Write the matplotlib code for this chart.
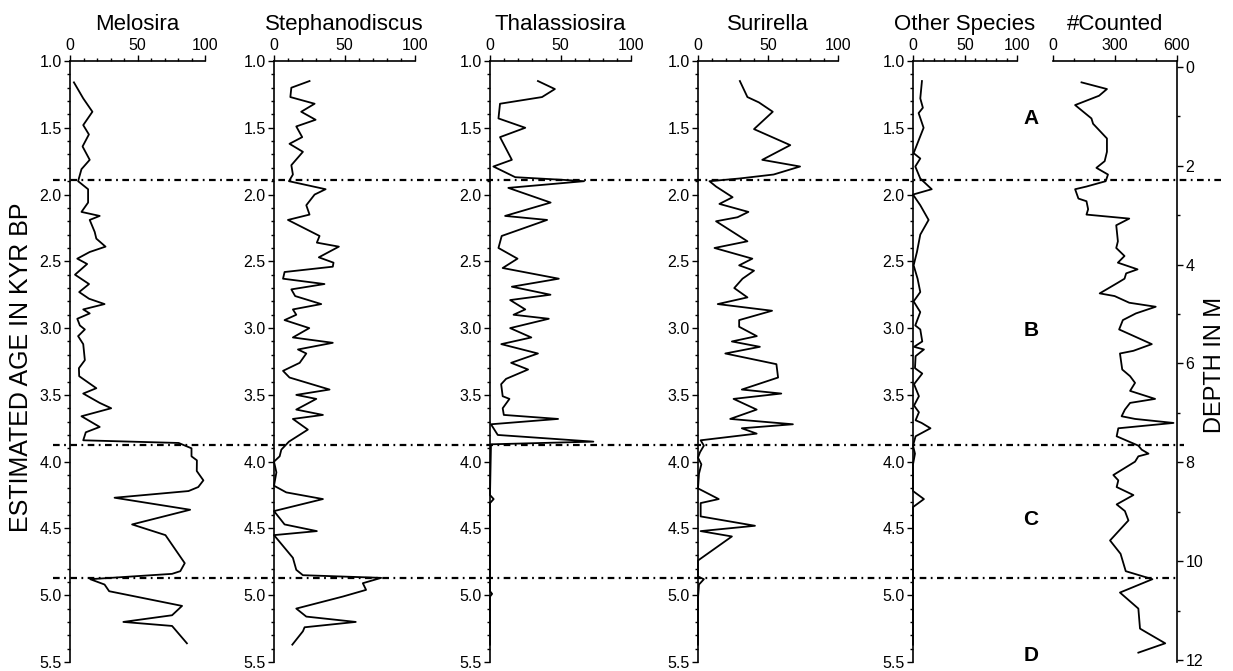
"""Diatom stratigraphy: percentage of each taxon versus estimated age,
with the number of valves counted and the depth scale on the right."""
import matplotlib

matplotlib.use("Agg")
import matplotlib.pyplot as plt
import matplotlib.transforms as mtransforms
from matplotlib.lines import Line2D
from matplotlib.ticker import FormatStrFormatter, MultipleLocator

plt.rcParams["font.family"] = ["Liberation Sans", "DejaVu Sans"]

# ---- data (age in kyr BP, value in %) ----
MELOSIRA_AGE = [1.16, 1.28, 1.38, 1.48, 1.55, 1.64, 1.74, 1.81, 1.90, 1.96,
                2.06, 2.13, 2.16, 2.19, 2.28, 2.33, 2.39, 2.43, 2.48, 2.52,
                2.60, 2.67, 2.73, 2.78, 2.82, 2.86, 2.89, 2.93, 2.98, 3.01,
                3.06, 3.12, 3.24, 3.30, 3.36, 3.45, 3.49, 3.56, 3.60, 3.66,
                3.74, 3.78, 3.84, 3.86, 3.90, 3.96, 3.99, 4.07, 4.14, 4.19,
                4.22, 4.27, 4.36, 4.47, 4.55, 4.76, 4.82, 4.84, 4.88, 4.92,
                4.97, 5.08, 5.15, 5.20, 5.23, 5.36]
MELOSIRA_PCT = [2.9, 9.8, 16.6, 9.8, 14, 9.3, 14.6, 8.5, 6, 13.4,
                13.4, 8.5, 22, 14.6, 18.3, 19.5, 26.3, 14.6, 5.4, 12.7,
                3.7, 14.1, 6.8, 14.1, 25.6, 9.8, 14.6, 5.4, 7.3, 11,
                6, 9.8, 11, 6.6, 6.8, 19.5, 9.8, 22, 30.5, 8.5,
                22, 11.7, 9.8, 80.5, 90, 90, 94, 93.9, 98.8, 95,
                87.8, 33, 89, 46, 70.7, 85, 81.7, 75.6, 15, 25.6,
                29, 83, 75.6, 39.5, 75.6, 86.6]

STEPH_AGE = [1.15, 1.20, 1.27, 1.32, 1.38, 1.44, 1.49, 1.57, 1.62, 1.68,
             1.78, 1.85, 1.90, 1.96, 2.00, 2.08, 2.15, 2.19, 2.31, 2.36,
             2.39, 2.47, 2.51, 2.54, 2.58, 2.63, 2.67, 2.71, 2.76, 2.82,
             2.86, 2.90, 2.94, 3.00, 3.07, 3.11, 3.16, 3.19, 3.26, 3.32,
             3.37, 3.46, 3.50, 3.53, 3.61, 3.65, 3.68, 3.76, 3.85, 3.91,
             3.96, 4.00, 4.08, 4.18, 4.23, 4.28, 4.37, 4.47, 4.52, 4.55,
             4.72, 4.81, 4.85, 4.87, 4.91, 4.96, 5.01, 5.10, 5.16, 5.20,
             5.24, 5.27, 5.37]
STEPH_PCT = [25.2, 12.3, 11.6, 28.8, 19.3, 29.5, 15.8, 20, 11, 20.5,
             12.3, 13.4, 10.6, 36.6, 28.8, 22.9, 25.2, 9.9, 32.3, 30.4,
             46, 31.8, 42.2, 41.7, 7.5, 6.4, 35.8, 12.3, 15, 33.5,
             13.4, 15.8, 7.5, 25, 13.4, 41.7, 17, 22.9, 18.2, 6.4,
             11, 39.4, 15.8, 30, 15.8, 34.7, 13.4, 24, 10.6, 5.2,
             4, 0, 1.7, 0, 8.7, 34.7, 0, 7.5, 30.4, 0,
             13.4, 15.8, 20.5, 76, 63, 65.3, 48.8, 15.8, 22.9, 58,
             21.7, 20.5, 13]

THAL_AGE = [1.15, 1.21, 1.27, 1.32, 1.43, 1.50, 1.57, 1.74, 1.79, 1.87,
            1.89, 1.90, 1.95, 2.06, 2.16, 2.19, 2.31, 2.40, 2.48, 2.55,
            2.63, 2.69, 2.75, 2.79, 2.86, 2.90, 2.93, 3.00, 3.07, 3.12,
            3.19, 3.26, 3.31, 3.38, 3.42, 3.51, 3.53, 3.60, 3.65, 3.68,
            3.72, 3.80, 3.85, 3.87, 4.25, 4.28, 4.31, 4.97, 4.99, 5.01,
            5.37]
THAL_PCT = [34, 46, 36.9, 7.1, 6, 25, 7.1, 15.5, 2.4, 17.9,
            52, 66.7, 13, 43, 10.7, 40.5, 8.3, 6, 19.5, 9,
            48.8, 15.5, 42.9, 14.3, 25, 16.7, 41.7, 14.3, 29.3, 8,
            34, 15, 27, 11.4, 7.9, 9, 13.8, 9, 9.8, 48.3,
            0.7, 5.5, 73.3, 0.7, 0, 2.6, 0, 0, 1.5, 0,
            0]

SURI_AGE = [1.15, 1.27, 1.31, 1.38, 1.51, 1.63, 1.74, 1.79, 1.85, 1.88,
            1.90, 1.94, 2.02, 2.07, 2.13, 2.17, 2.20, 2.35, 2.40, 2.48,
            2.53, 2.57, 2.63, 2.70, 2.77, 2.82, 2.87, 2.94, 2.99, 3.06,
            3.10, 3.14, 3.19, 3.27, 3.37, 3.46, 3.49, 3.53, 3.61, 3.68,
            3.72, 3.75, 3.79, 3.84, 3.88, 3.93, 3.97, 4.02, 4.09, 4.20,
            4.28, 4.31, 4.41, 4.48, 4.52, 4.56, 4.74, 4.86, 4.88, 4.92,
            5.02, 5.37]
SURI_PCT = [29.9, 35.3, 43.5, 53.4, 40, 65.9, 45.9, 72.9, 54, 29.4,
            8.2, 12.9, 24.7, 15.3, 36, 28.2, 12.9, 35.3, 11.8, 38.8,
            29.4, 40, 31.8, 25.9, 35.3, 14.1, 52.9, 29.4, 29.4, 42,
            24.2, 44.2, 19.5, 56, 57.2, 31.3, 59.5, 25.4, 41.9, 23,
            67.8, 31.3, 41.9, 1.9, 4.2, 1.4, 0, 2.4, 0.7, 0,
            14.8, 1.9, 1.9, 40.7, 1.9, 24.2, 0, 0, 4.2, 0.7,
            0, 0]

OTHER_AGE = [1.15, 1.28, 1.35, 1.39, 1.50, 1.69, 1.73, 1.79, 1.88, 1.96,
             2.00, 2.08, 2.19, 2.30, 2.43, 2.53, 2.63, 2.73, 2.80, 2.88,
             2.98, 3.01, 3.10, 3.14, 3.16, 3.21, 3.30, 3.34, 3.42, 3.51,
             3.58, 3.63, 3.69, 3.71, 3.75, 3.81, 3.88, 3.94, 4.02, 4.22,
             4.28, 4.34, 5.37]
OTHER_PCT = [8.6, 7, 9.5, 5.4, 10.2, 0.6, 7, 2.2, 7, 18,
             0, 7, 15, 7, 3.8, 0.6, 4.4, 7, 0.6, 7,
             2.2, 7, 8.9, 1, 10.5, 2.5, 1.9, 8.9, 1, 5.7,
             1, 5.7, 2.5, 8.3, 16.8, 2.5, 0, 1.9, 0, 0,
             10.5, 0, 0]

COUNT_AGE = [1.16, 1.21, 1.26, 1.33, 1.43, 1.47, 1.58, 1.68, 1.75, 1.80,
             1.85, 1.90, 1.94, 1.96, 2.03, 2.05, 2.11, 2.15, 2.18, 2.23,
             2.35, 2.40, 2.46, 2.51, 2.56, 2.59, 2.63, 2.66, 2.74, 2.76,
             2.81, 2.84, 2.89, 2.94, 3.01, 3.12, 3.17, 3.19, 3.31, 3.36,
             3.41, 3.47, 3.53, 3.56, 3.61, 3.66, 3.68, 3.71, 3.75, 3.81,
             3.88, 3.91, 3.94, 3.96, 4.00, 4.10, 4.14, 4.19, 4.25, 4.32,
             4.37, 4.44, 4.59, 4.69, 4.82, 4.88, 4.98, 5.10, 5.25, 5.28,
             5.36, 5.43]
COUNT_N = [138, 261, 223, 107, 186, 194, 261, 261, 250, 210,
           266, 255, 162, 107, 123, 162, 170, 162, 369, 306,
           314, 306, 346, 314, 409, 354, 346, 314, 226, 298,
           369, 497, 401, 338, 320, 478, 389, 324, 335, 373,
           397, 373, 494, 373, 348, 332, 397, 583, 316, 308,
           413, 429, 462, 413, 397, 292, 316, 308, 389, 308,
           348, 365, 276, 327, 352, 481, 324, 413, 421, 454,
           543, 413]

ZONE_BOUNDARIES = [1.89, 3.875, 4.87]
ZONE_NAMES = ["A", "B", "C", "D"]
ZONE_AGES = [1.43, 3.02, 4.43, 5.45]

W, H = 1233, 671
TOP, BOT = 61, 662


def add_panel(fig, left, width):
    return fig.add_axes([left / W, (H - BOT) / H, width / W, (BOT - TOP) / H])


def style_axis(ax, xmax, xmajor, xminor):
    ax.set_xlim(0, xmax)
    ax.set_ylim(5.5, 1.0)
    ax.xaxis.tick_top()
    ax.xaxis.set_major_locator(MultipleLocator(xmajor))
    ax.xaxis.set_minor_locator(MultipleLocator(xminor))
    ax.yaxis.set_major_locator(MultipleLocator(0.5))
    ax.yaxis.set_minor_locator(MultipleLocator(0.1))
    ax.yaxis.set_major_formatter(FormatStrFormatter("%.1f"))
    ax.tick_params(which="major", direction="out", length=4, width=1.0,
                   labelsize=11.5, pad=2)
    ax.tick_params(which="minor", direction="out", length=2, width=1.0)
    for side in ("right", "bottom"):
        ax.spines[side].set_visible(False)
    for side in ("top", "left"):
        ax.spines[side].set_linewidth(1.2)
    ax.patch.set_visible(False)


def add_title(ax, name):
    ax.annotate(name, xy=(0.5, 1), xycoords="axes fraction", xytext=(0, 22),
                textcoords="offset points", ha="center", va="baseline",
                fontsize=16)


def main():
    fig = plt.figure(figsize=(W / 100, H / 100), dpi=100)

    panels = [
        ("Melosira", MELOSIRA_AGE, MELOSIRA_PCT, 70, 135),
        ("Stephanodiscus", STEPH_AGE, STEPH_PCT, 274, 141),
        ("Thalassiosira", THAL_AGE, THAL_PCT, 490, 141),
        ("Surirella", SURI_AGE, SURI_PCT, 698, 140),
        ("Other Species", OTHER_AGE, OTHER_PCT, 913, 104),
    ]
    axes = []
    for name, age, val, left, width in panels:
        ax = add_panel(fig, left, width)
        ax.plot(val, age, color="black", lw=1.3, clip_on=False)
        style_axis(ax, 100, 50, 10)
        add_title(ax, name)
        axes.append(ax)

    # counts panel with the depth scale on its right spine
    axc = add_panel(fig, 1053, 124)
    axc.plot(COUNT_N, COUNT_AGE, color="black", lw=1.3, clip_on=False)
    style_axis(axc, 600, 300, 100)
    add_title(axc, "#Counted")
    axc.spines["left"].set_visible(False)
    axd = axc.twinx()
    axc.tick_params(axis="y", which="both", left=False, labelleft=False)
    axd.set_ylim(12.04, -0.12)
    axd.yaxis.set_major_locator(MultipleLocator(2))
    axd.yaxis.set_minor_locator(MultipleLocator(1))
    axd.tick_params(which="major", direction="out", length=4, width=1.0,
                    labelsize=11.5, pad=2)
    axd.tick_params(which="minor", direction="out", length=2, width=1.0)
    for side in ("left", "top", "bottom"):
        axd.spines[side].set_visible(False)
    axd.spines["right"].set_linewidth(1.2)

    # zone boundaries across the whole figure
    trans = mtransforms.blended_transform_factory(fig.transFigure, axes[0].transData)
    line_ends = [0.992, 0.96, 0.955]
    for age, x1 in zip(ZONE_BOUNDARIES, line_ends):
        fig.add_artist(Line2D([0.043, x1], [age, age], transform=trans,
                              color="black", lw=1.6,
                              linestyle=(0, (3, 2, 0.8, 2))))
    for name, age in zip(ZONE_NAMES, ZONE_AGES):
        fig.text(0.836, age, name, transform=trans, ha="center", va="center",
                 fontsize=15, fontweight="bold")

    fig.text(0.017, 0.453, "ESTIMATED AGE IN KYR BP", rotation=90,
             ha="center", va="center", fontsize=18)
    fig.text(0.985, 0.456, "DEPTH IN M", rotation=90,
             ha="center", va="center", fontsize=17)

    fig.savefig("out.png", dpi=100)
    plt.close(fig)


if __name__ == "__main__":
    main()
